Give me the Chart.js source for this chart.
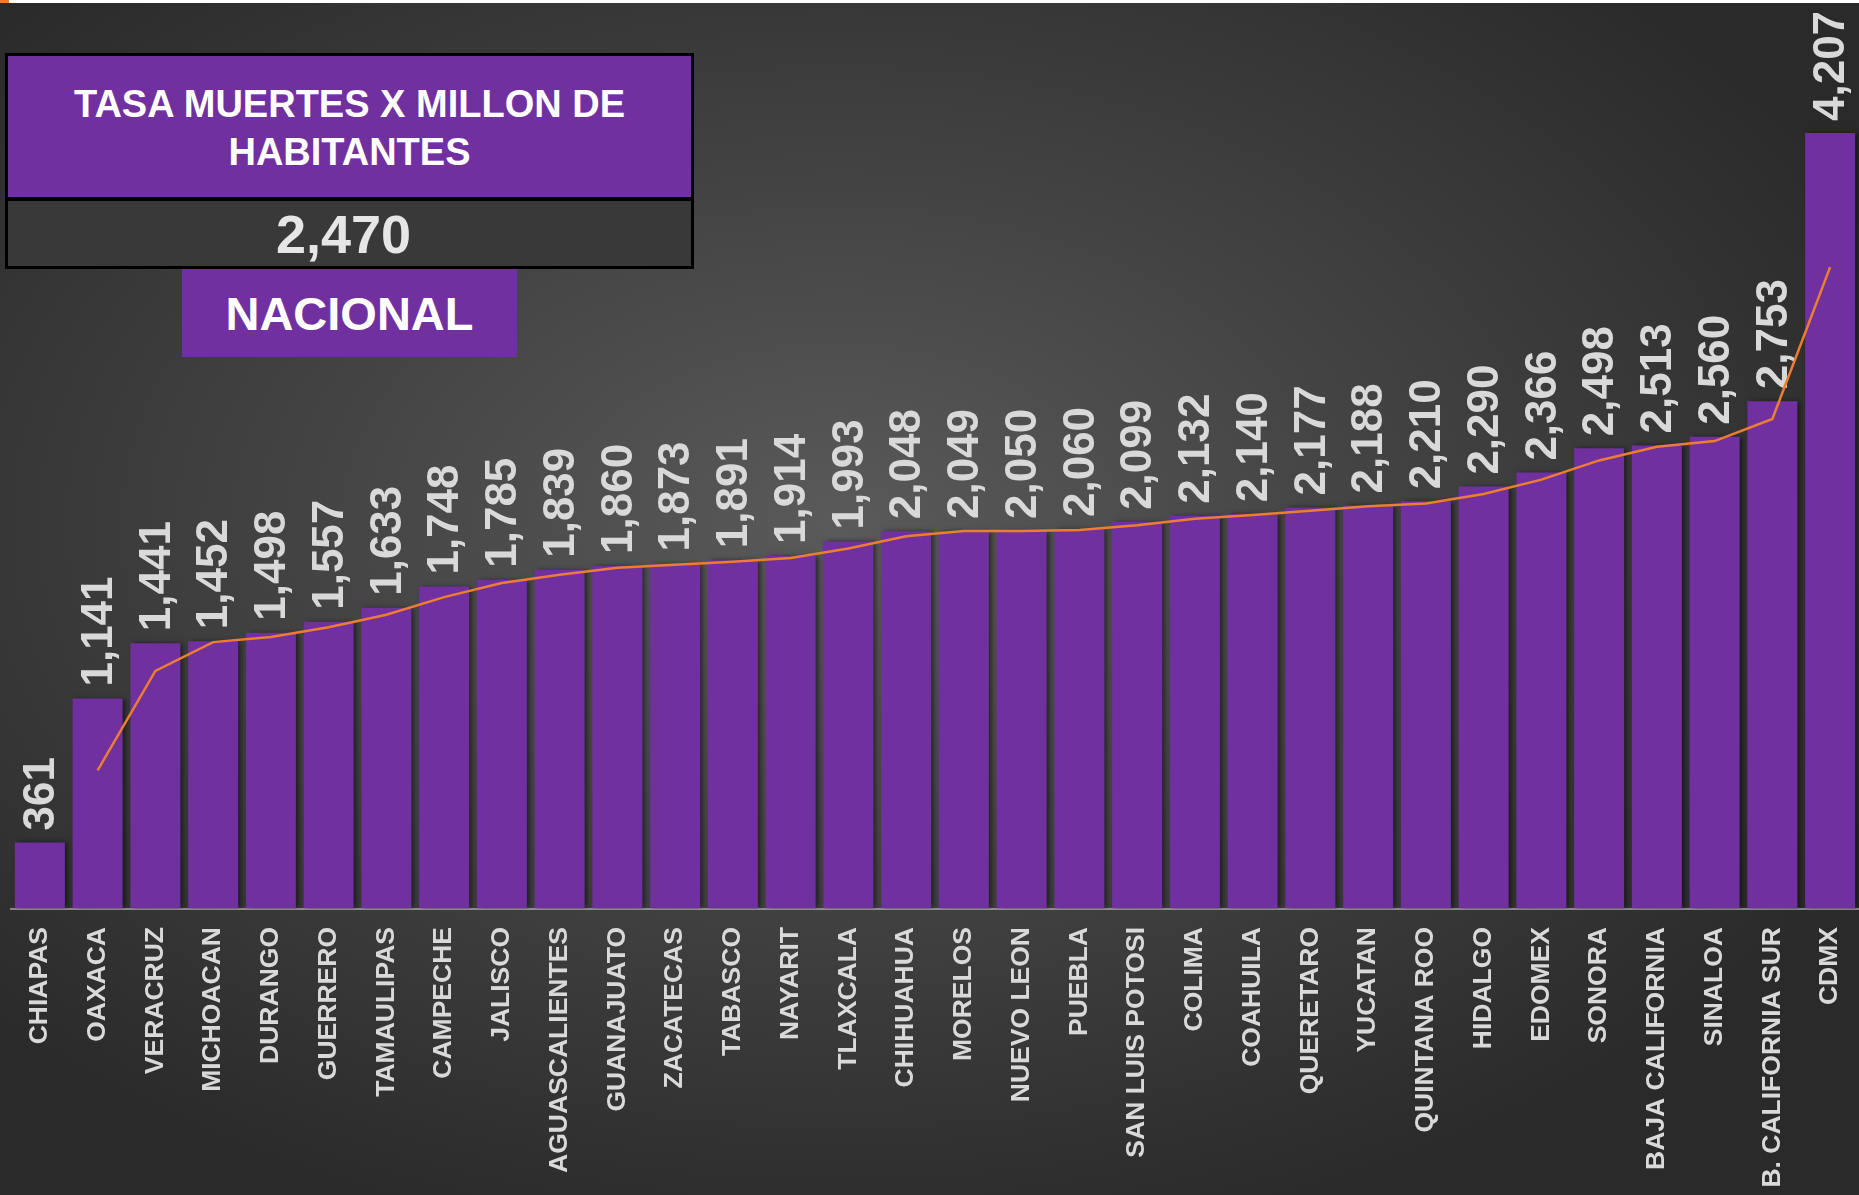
<!DOCTYPE html>
<html>
<head>
<meta charset="utf-8">
<script src="https://cdn.jsdelivr.net/npm/chart.js@4.4.1/dist/chart.umd.min.js"></script>
<style>
    html, body
    {
        margin: 0;
        padding: 0;
        width: 1859px;
        height: 1195px;
        overflow: hidden;
        font-family: "Liberation Sans", Arial, sans-serif;
        background: radial-gradient(ellipse 62% 62% at 45% 44%, #5a5a5a 0%, #444444 45%, #2a2a2a 100%);
    }
    #top-strip { position: absolute; left: 0; top: 0; width: 1859px; height: 3px; background: #ffffff; }
    #top-mark { position: absolute; left: 0; top: 0; width: 9px; height: 3px; background: #ed7d31; }
    #chart-box { position: absolute; left: 0; top: 0; width: 1859px; height: 1195px; }
    .panel { position: absolute; box-sizing: border-box; display: flex; align-items: center; justify-content: center; text-align: center; font-weight: bold; }
    #title-box
    {
        left: 5px; top: 53px; width: 689px; height: 148px;
        background: #7030a0; border: 3px solid #000; border-bottom-width: 4px;
        color: #ffffff; font-size: 38px; line-height: 48px; padding-top: 2px;
    }
    #value-box
    {
        left: 5px; top: 197px; width: 689px; height: 72px;
        background: #3a3939; border: 3px solid #000; border-top-width: 4px;
        color: #e6e6e6; font-size: 54px; padding-right: 12px;
    }
    #label-box
    {
        left: 182px; top: 269px; width: 335px; height: 88px;
        background: #7030a0; color: #ffffff; font-size: 47px;
    }
</style>
</head>
<body>
<div id="top-strip"></div>
<div id="top-mark"></div>
<div id="chart-box"><canvas id="rate-chart" width="1859" height="1195"></canvas></div>
<div id="title-box" class="panel">TASA MUERTES X MILLON DE<br>HABITANTES</div>
<div id="value-box" class="panel">2,470</div>
<div id="label-box" class="panel">NACIONAL</div>

<script>
const states = [
    'CHIAPAS', 'OAXACA', 'VERACRUZ', 'MICHOACAN', 'DURANGO', 'GUERRERO', 'TAMAULIPAS', 'CAMPECHE',
    'JALISCO', 'AGUASCALIENTES', 'GUANAJUATO', 'ZACATECAS', 'TABASCO', 'NAYARIT', 'TLAXCALA', 'CHIHUAHUA',
    'MORELOS', 'NUEVO LEON', 'PUEBLA', 'SAN LUIS POTOSI', 'COLIMA', 'COAHUILA', 'QUERETARO', 'YUCATAN',
    'QUINTANA ROO', 'HIDALGO', 'EDOMEX', 'SONORA', 'BAJA CALIFORNIA', 'SINALOA', 'B. CALIFORNIA SUR', 'CDMX'
];

const deathRate = [
    361, 1141, 1441, 1452, 1498, 1557, 1633, 1748,
    1785, 1839, 1860, 1873, 1891, 1914, 1993, 2048,
    2049, 2050, 2060, 2099, 2132, 2140, 2177, 2188,
    2210, 2290, 2366, 2498, 2513, 2560, 2753, 4207
];

// orange trend line (starts at the second state)
const trendLine = [
    null, 751, 1291, 1447, 1475, 1528, 1595, 1691,
    1767, 1812, 1850, 1867, 1882, 1903, 1954, 2021,
    2049, 2050, 2055, 2080, 2116, 2136, 2159, 2183,
    2199, 2250, 2328, 2432, 2506, 2537, 2657, 3480
];

const gridStep = 500;
const axisMax = 4912;

const FONT = '"Liberation Sans", Arial, sans-serif';

const barLabelsPlugin = {
    id: 'barLabels',
    beforeDatasetDraw(chart, args)
    {
        if (args.index !== 0) return;
        const ctx = chart.ctx;
        ctx.save();
        ctx.shadowColor = 'rgba(0, 0, 0, 0.55)';
        ctx.shadowOffsetX = 3;
        ctx.shadowOffsetY = 0;
        ctx.shadowBlur = 5;
    },
    afterDatasetDraw(chart, args)
    {
        if (args.index !== 0) return;
        const ctx = chart.ctx;
        ctx.restore();

        const meta = chart.getDatasetMeta(0);
        ctx.save();
        ctx.font = 'bold 44px ' + FONT;
        ctx.fillStyle = '#d9d9d9';
        ctx.textAlign = 'left';
        ctx.textBaseline = 'middle';
        meta.data.forEach((bar, i) => {
            ctx.save();
            ctx.translate(bar.x + 2, bar.y - 12);
            ctx.rotate(-Math.PI / 2);
            ctx.fillText(deathRate[i].toLocaleString('en-US'), 0, 0);
            ctx.restore();
        });
        ctx.restore();
    }
};

const config = {
    data: {
        labels: states,
        datasets: [
            {
                type: 'bar',
                data: deathRate,
                backgroundColor: '#7030a0',
                borderWidth: 0,
                barPercentage: 0.866,
                categoryPercentage: 1.0,
                order: 2
            },
            {
                type: 'line',
                data: trendLine,
                borderColor: '#ed7d31',
                borderWidth: 2.5,
                pointRadius: 0,
                tension: 0,
                fill: false,
                order: 1
            }
        ]
    },
    options: {
        responsive: false,
        animation: false,
        layout: { padding: { left: 11, right: -8, top: 3, bottom: 0 } },
        plugins: {
            legend: { display: false },
            tooltip: { enabled: false }
        },
        scales: {
            x: {
                z: 1,
                grid: { display: false, drawTicks: false },
                border: { display: true, color: 'rgba(200, 200, 200, 0.55)', width: 2 },
                ticks: {
                    color: '#d9d9d9',
                    font: { family: FONT, size: 26.5, weight: 'bold' },
                    minRotation: 90,
                    maxRotation: 90,
                    autoSkip: false,
                    padding: 18
                },
                afterFit: (scale) => {
                    scale.height = 286;
                    scale.paddingLeft = 0;
                    scale.paddingRight = 0;
                }
            },
            y: {
                min: 0,
                max: axisMax,
                ticks: { display: false, stepSize: gridStep },
                grid: { color: 'rgba(255, 255, 255, 0.09)', lineWidth: 1.5, drawTicks: false },
                border: { display: false },
                afterBuildTicks: (scale) => {
                    scale.ticks = scale.ticks.filter(t => t.value % gridStep === 0);
                },
                afterFit: (scale) => {
                    scale.width = 0;
                    scale.paddingTop = 0;
                    scale.paddingBottom = 0;
                }
            }
        }
    },
    plugins: [barLabelsPlugin]
};

const rateChart = new Chart(document.getElementById('rate-chart'), config);
</script>
</body>
</html>
